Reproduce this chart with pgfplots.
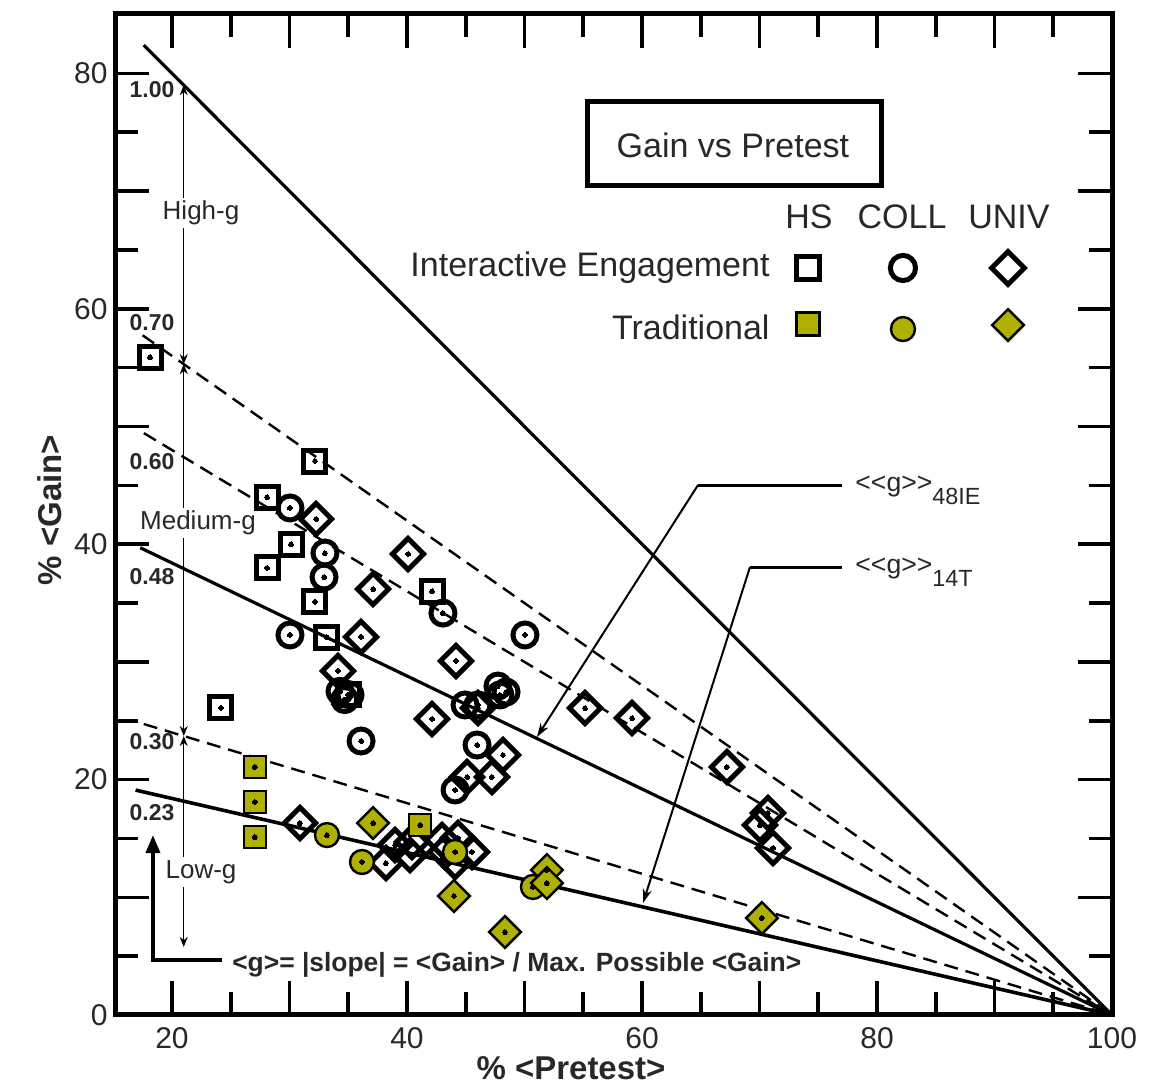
\documentclass[border=0pt]{standalone}
\usepackage{fontspec}
\setmainfont{Liberation Sans}
\usepackage{pgfplots}
\usepackage{pgfplotstable}
\pgfplotsset{compat=1.18}
\usetikzlibrary{arrows.meta}
\definecolor{olivey}{RGB}{176,176,0}
\definecolor{txt}{RGB}{40,40,40}
\tikzset{
  slab/.style={font=\bfseries\fontsize{11.5}{13}\selectfont, text=txt, inner sep=0pt},
  rlab/.style={fill=white, inner sep=1.5pt, font=\fontsize{13}{15}\selectfont, text=txt},
  lgt/.style={font=\fontsize{17}{20}\selectfont, text=txt},
}

% Interactive engagement, high school
\pgfplotstableread{
x y
18.13 55.9
32.17 47.07
28.09 44.0
30.13 40.0
28.09 37.98
32.17 35.1
33.19 32.1
42.13 36.0
34.98 27.2
24.17 26.1
}\hsie
% Interactive engagement, college
\pgfplotstableread{
x y
30.04 43.08
33.02 39.25
32.94 37.21
30.04 32.29
34.3 27.5
35.15 27.2
34.7 26.8
36.09 23.28
43.06 34.15
50.04 32.29
47.74 27.95
48.43 27.44
47.91 27.19
44.94 26.34
46.04 26.34
45.96 22.94
44.09 19.12
}\collie
% Interactive engagement, university
\pgfplotstableread{
x y
32.26 42.14
40.09 39.17
37.11 36.19
36.09 32.12
34.13 29.23
44.17 30.08
42.13 25.15
46.04 26.08
48.17 22.09
45.11 20.22
47.23 20.22
55.15 26.08
59.15 25.23
67.23 21.07
70.72 17.16
70.04 16.14
71.15 14.19
30.89 16.31
38.21 12.91
38.98 14.44
40.26 13.59
40.43 14.7
42.98 14.87
44.34 15.04
45.53 13.85
44.09 13.0
43.23 13.85
}\univie
% Traditional
\pgfplotstableread{
x y
27.06 21.07
27.06 18.1
27.06 15.12
41.11 16.14
}\hst
\pgfplotstableread{
x y
33.19 15.29
36.17 13.0
44.09 13.85
50.72 10.88
}\collt
\pgfplotstableread{
x y
37.11 16.31
44.0 10.11
48.34 7.05
51.91 12.32
51.91 11.21
70.21 8.24
}\univt

\begin{document}
\begin{tikzpicture}
\begin{axis}[
  scale only axis, width=498.5pt, height=500.5pt,
  xmin=15.15, xmax=100, ymin=0, ymax=85.05,
  clip=false,
  axis line style={line width=2.5pt},
  tick align=inside, tick pos=both,
  xtick={20,30,...,100}, xticklabels={20,,40,,60,,80,,100},
  minor xtick={25,35,...,95},
  ytick={0,10,...,80}, yticklabels={0,,20,,40,,60,,80},
  minor ytick={5,15,...,75},
  major tick length=17pt, minor tick length=11.5pt,
  every tick/.style={black, line width=1.8pt},
  /pgf/number format/assume math mode=true,
  tick label style={font=\fontsize{15}{18}\selectfont, text=txt},
  xticklabel style={anchor=north, inner sep=0pt, yshift=-6pt},
  yticklabel style={anchor=east, inner sep=0pt, xshift=-3.5pt},
  xlabel={\% <Pretest>}, ylabel={\% <Gain>},
  label style={font=\bfseries\fontsize{16.5}{19}\selectfont, text=txt},
  xlabel style={at={(axis description cs:0.4574,-0.0529)}, anchor=center},
  ylabel style={at={(axis description cs:-0.0652,0.5045)}, anchor=center},
  ie/.style={only marks, draw=black, line width=2.5pt, fill=none},
  tr/.style={only marks, draw=black, line width=1.2pt, fill=olivey},
  dot/.style={only marks, mark=*, mark size=1.2pt, draw=black, fill=black, line width=0pt},
]
% g lines
\addplot[black, line width=1.6pt] coordinates {(17.6,82.4) (100,0)};
\addplot[black, line width=1.2pt, dash pattern=on 7pt off 4pt] coordinates {(17.5,57.75) (100,0)};
\addplot[black, line width=1.2pt, dash pattern=on 7pt off 4pt] coordinates {(17.6,49.44) (100,0)};
\addplot[black, line width=1.6pt] coordinates {(17.3,39.70) (100,0)};
\addplot[black, line width=1.2pt, dash pattern=on 7pt off 4pt] coordinates {(17.6,24.72) (100,0)};
\addplot[black, line width=1.8pt] coordinates {(16.9,19.11) (100,0)};

% interactive engagement
\addplot[ie, mark=square, mark size=5.5pt] table {\hsie};
\addplot[ie, mark=o, mark size=6pt] table {\collie};
\addplot[ie, mark=square, mark size=5.5pt, mark options={rotate=45}] table {\univie};
\addplot[dot] table {\hsie};
\addplot[dot] table {\collie};
\addplot[dot] table {\univie};
% traditional
\addplot[tr, mark=square*, mark size=5.5pt] table {\hst};
\addplot[tr, mark=*, mark size=6pt] table {\collt};
\addplot[tr, mark=square*, mark size=5.6pt, mark options={rotate=45}] table {\univt};
\addplot[dot] table {\hst};
\addplot[dot] table {\collt};
\addplot[dot] table {\univt};

% legend markers
\addplot[ie, mark=square, mark size=5.8pt] coordinates {(74.13,63.47)};
\addplot[ie, mark=o, mark size=6.3pt] coordinates {(82.21,63.47)};
\addplot[ie, mark=square, mark size=5.8pt, mark options={rotate=45}] coordinates {(91.15,63.47)};
\addplot[tr, mark=square*, mark size=5.8pt] coordinates {(74.13,58.71)};
\addplot[tr, mark=*, mark size=6pt] coordinates {(82.21,58.28)};
\addplot[tr, mark=square*, mark size=5.6pt, mark options={rotate=45}] coordinates {(91.15,58.62)};

% title box and legend text
\draw[line width=2.5pt] (axis cs:55.32,77.65) rectangle (axis cs:80.34,70.52);
\node[lgt] at (axis cs:67.74,73.92) {Gain vs Pretest};
\node[lgt] at (axis cs:74.21,67.8) {HS};
\node[lgt] at (axis cs:82.13,67.8) {COLL};
\node[lgt] at (axis cs:91.23,67.8) {UNIV};
\node[lgt, anchor=east, inner sep=0pt] at (axis cs:70.89,63.47) {Interactive Engagement};
\node[lgt, anchor=east, inner sep=0pt] at (axis cs:70.89,58.45) {Traditional};

% slope labels
\node[slab] at (axis cs:18.3,78.67) {1.00};
\node[slab] at (axis cs:18.3,58.79) {0.70};
\node[slab] at (axis cs:18.3,46.98) {0.60};
\node[slab] at (axis cs:18.3,37.21) {0.48};
\node[slab] at (axis cs:18.3,23.19) {0.30};
\node[slab] at (axis cs:18.3,17.16) {0.23};

% range arrows
\draw[line width=0.6pt, {Stealth[length=5pt,width=4pt]}-{Stealth[length=5pt,width=4pt]}] (axis cs:21,79) -- (axis cs:21,55.3);
\draw[line width=0.6pt, {Stealth[length=5pt,width=4pt]}-{Stealth[length=5pt,width=4pt]}] (axis cs:21,55.3) -- (axis cs:21,23.7);
\draw[line width=0.6pt, {Stealth[length=5pt,width=4pt]}-{Stealth[length=5pt,width=4pt]}] (axis cs:21,23.7) -- (axis cs:21,5.78);
\node[rlab] at (axis cs:22.47,68.14) {High-g};
\node[rlab] at (axis cs:22.21,41.8) {Medium-g};
\node[rlab] at (axis cs:22.47,12.15) {Low-g};

% definition arrow
\draw[line width=1.8pt, -{Triangle[length=9pt,width=7pt]}] (axis cs:24.26,4.67) -- (axis cs:18.38,4.67) -- (axis cs:18.38,15.29);
\node[anchor=west, inner sep=0pt, font=\bfseries\fontsize{13.2}{15}\selectfont, text=txt] at (axis cs:25.1,4.25) {<g>= |slope| = <Gain> / Max. Possible <Gain>};

% average gain annotations
\draw[line width=1.5pt] (axis cs:64.77,45.03) -- (axis cs:77.02,45.03);
\draw[line width=1pt, -{Stealth[length=7pt,width=4.5pt]}] (axis cs:64.77,45.03) -- (axis cs:51.06,23.62);
\node[anchor=base west, inner sep=0pt, font=\fontsize{13.3}{15}\selectfont, text=txt] at (axis cs:78.13,44.52) {<\kern0pt<g>\kern0pt>\raisebox{-6.5pt}{\fontsize{11.7}{13}\selectfont 48IE}};
\draw[line width=1.5pt] (axis cs:69.19,38.06) -- (axis cs:77.02,38.06);
\draw[line width=1pt, -{Stealth[length=7pt,width=4.5pt]}] (axis cs:69.19,38.06) -- (axis cs:60.09,9.52);
\node[anchor=base west, inner sep=0pt, font=\fontsize{13.3}{15}\selectfont, text=txt] at (axis cs:78.13,37.55) {<\kern0pt<g>\kern0pt>\raisebox{-6.5pt}{\fontsize{11.7}{13}\selectfont 14T}};

\coordinate (SW) at (rel axis cs:0,0);
\coordinate (NE) at (rel axis cs:1,1);
\end{axis}
\pgfresetboundingbox
\path ([xshift=-57.5pt,yshift=-35pt]SW) rectangle ([xshift=21.5pt,yshift=7pt]NE);
\end{tikzpicture}
\end{document}
